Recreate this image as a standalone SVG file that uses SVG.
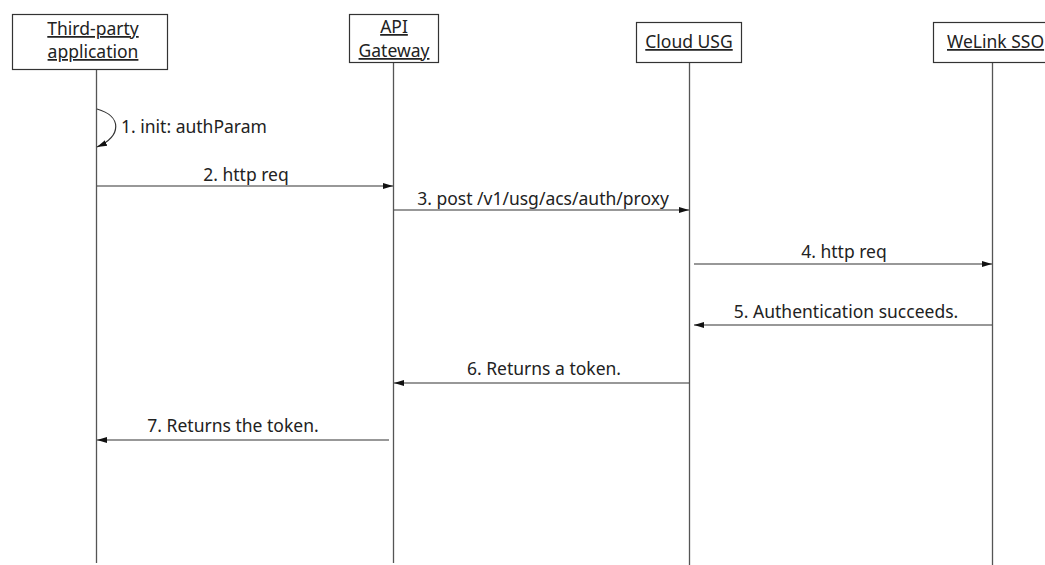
<svg xmlns="http://www.w3.org/2000/svg" width="1045" height="565" viewBox="0 0 1045 565">
<defs>
<style>
.box{fill:#fff;stroke:#333;stroke-width:1.2}
.life{stroke:#555;stroke-width:1.3;fill:none}
.msg{stroke:#333;stroke-width:1.2;fill:none}
.t{font-family:"Noto Sans","Open Sans",sans-serif;font-size:17.5px;fill:#222}
.h{text-decoration:underline;text-anchor:middle}
.m{text-anchor:middle}
</style>
<marker id="arr" viewBox="0 0 10 10" refX="10" refY="5" markerWidth="10" markerHeight="10" markerUnits="userSpaceOnUse" orient="auto">
<path d="M0,2 L10,5 L0,8 Z" fill="#111"/>
</marker>
</defs>
<rect width="1045" height="565" fill="#fff"/>
<g id="lifelines">
<line class="life" x1="96.5" y1="69" x2="96.5" y2="563"/>
<line class="life" x1="393.5" y1="62" x2="393.5" y2="563"/>
<line class="life" x1="689.5" y1="62" x2="689.5" y2="565"/>
<line class="life" x1="992.5" y1="62" x2="992.5" y2="565"/>
</g>
<g id="n1"><rect class="box" x="12.5" y="14.5" width="155" height="55"/>
<text class="t h" x="93" y="35">Third-party</text><text class="t h" x="93" y="58">application</text></g>
<g id="n2"><rect class="box" x="349.5" y="14.5" width="89" height="48"/>
<text class="t h" x="394" y="33">API</text><text class="t h" x="394" y="57">Gateway</text></g>
<g id="n3"><rect class="box" x="636.5" y="22.5" width="105" height="40"/>
<text class="t h" x="689" y="48">Cloud USG</text></g>
<g id="n4"><rect class="box" x="933.5" y="22.5" width="120" height="40"/>
<text class="t" x="947" y="48" text-decoration="underline">WeLink SSO</text></g>
<g id="connectors">
<path class="msg" d="M97,109 C122,116 122,136 97,147" marker-end="url(#arr)"/>
<line class="msg" x1="97" y1="186" x2="393" y2="186" marker-end="url(#arr)"/>
<line class="msg" x1="394" y1="210" x2="689" y2="210" marker-end="url(#arr)"/>
<line class="msg" x1="694" y1="264" x2="992" y2="264" marker-end="url(#arr)"/>
<line class="msg" x1="992" y1="325" x2="694" y2="325" marker-end="url(#arr)"/>
<line class="msg" x1="689" y1="383" x2="394" y2="383" marker-end="url(#arr)"/>
<line class="msg" x1="389" y1="440" x2="97" y2="440" marker-end="url(#arr)"/>
</g>
<g id="labels">
<text class="t" x="121" y="133">1. init: authParam</text>
<text class="t m" x="246" y="181">2. http req</text>
<text class="t m" x="543" y="205">3. post /v1/usg/acs/auth/proxy</text>
<text class="t m" x="844" y="258">4. http req</text>
<text class="t m" x="846" y="318">5. Authentication succeeds.</text>
<text class="t m" x="544" y="375">6. Returns a token.</text>
<text class="t m" x="233" y="432">7. Returns the token.</text>
</g>
</svg>
